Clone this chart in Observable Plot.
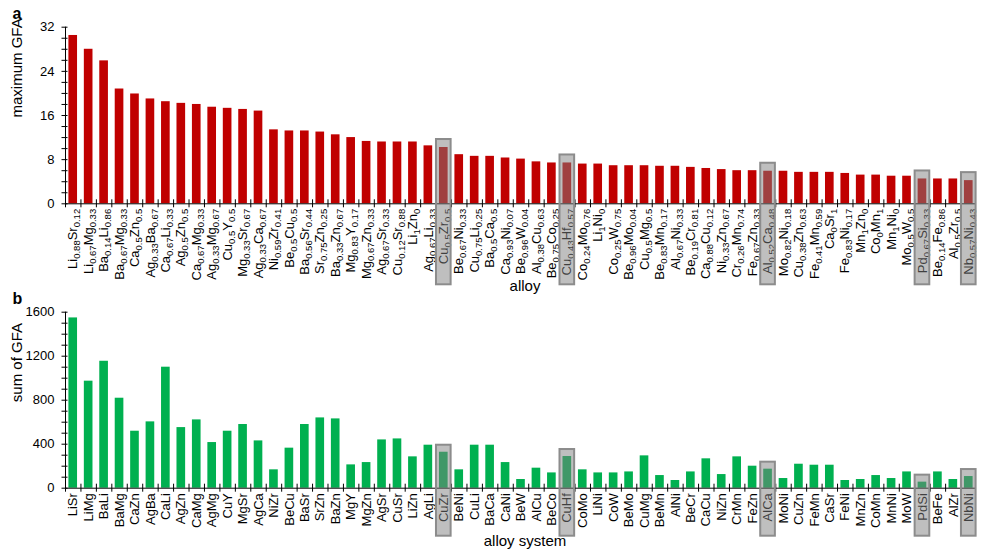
<!DOCTYPE html>
<html>
<head>
<meta charset="utf-8">
<script src="https://cdn.jsdelivr.net/npm/d3@7"></script>
<script src="https://cdn.jsdelivr.net/npm/@observablehq/plot@0.6"></script>
<style>
  html, body { margin: 0; padding: 0; background: #fff; }
  #wrap { position: relative; width: 992px; height: 555px; overflow: hidden; font-family: "Liberation Sans", Arial, sans-serif; }
  #wrap svg { position: absolute; left: 0; }
</style>
</head>
<body>
<div id="wrap"></div>
<script>
// ---- data ----
const alloys = [
  "Li0.88Sr0.12","Li0.67Mg0.33","Ba0.14Li0.86","Ba0.67Mg0.33","Ca0.5Zn0.5","Ag0.33Ba0.67",
  "Ca0.67Li0.33","Ag0.5Zn0.5","Ca0.67Mg0.33","Ag0.33Mg0.67","Cu0.5Y0.5","Mg0.33Sr0.67",
  "Ag0.33Ca0.67","Ni0.59Zr0.41","Be0.5Cu0.5","Ba0.56Sr0.44","Sr0.75Zn0.25","Ba0.33Zn0.67",
  "Mg0.83Y0.17","Mg0.67Zn0.33","Ag0.67Sr0.33","Cu0.12Sr0.88","Li1Zn0","Ag0.67Li0.33",
  "Cu0.5Zr0.5","Be0.67Ni0.33","Cu0.75Li0.25","Ba0.5Ca0.5","Ca0.93Ni0.07","Be0.96W0.04",
  "Al0.38Cu0.63","Be0.75Co0.25","Cu0.43Hf0.57","Co0.24Mo0.76","Li1Ni0","Co0.25W0.75",
  "Be0.96Mo0.04","Cu0.5Mg0.5","Be0.83Mn0.17","Al0.67Ni0.33","Be0.19Cr0.81","Ca0.88Cu0.12",
  "Ni0.33Zn0.67","Cr0.26Mn0.74","Fe0.67Zn0.33","Al0.52Ca0.48","Mo0.82Ni0.18","Cu0.38Zn0.63",
  "Fe0.41Mn0.59","Ca0Sr1","Fe0.83Ni0.17","Mn1Zn0","Co0Mn1","Mn1Ni0","Mo0.5W0.5",
  "Pd0.67Si0.33","Be0.14Fe0.86","Al0.5Zr0.5","Nb0.57Ni0.43"
];
const maxGFA = [
  30.5, 28.0, 25.9, 20.8, 19.9, 19.0, 18.5, 18.2, 18.0, 17.5, 17.3, 17.1, 16.8, 13.4, 13.2,
  13.2, 13.0, 12.5, 12.0, 11.3, 11.2, 11.2, 11.2, 10.5, 10.2, 8.9, 8.6, 8.6, 8.3, 8.1,
  7.6, 7.4, 7.4, 7.2, 7.2, 6.9, 6.9, 6.9, 6.8, 6.8, 6.6, 6.4, 6.2, 6.0, 6.0,
  5.9, 5.9, 5.7, 5.7, 5.7, 5.5, 5.2, 5.2, 5.0, 5.0, 4.5, 4.5, 4.5, 4.2
];
const systems = [
  "LiSr","LiMg","BaLi","BaMg","CaZn","AgBa","CaLi","AgZn","CaMg","AgMg","CuY","MgSr",
  "AgCa","NiZr","BeCu","BaSr","SrZn","BaZn","MgY","MgZn","AgSr","CuSr","LiZn","AgLi",
  "CuZr","BeNi","CuLi","BaCa","CaNi","BeW","AlCu","BeCo","CuHf","CoMo","LiNi","CoW",
  "BeMo","CuMg","BeMn","AlNi","BeCr","CaCu","NiZn","CrMn","FeZn","AlCa","MoNi","CuZn",
  "FeMn","CaSr","FeNi","MnZn","CoMn","MnNi","MoW","PdSi","BeFe","AlZr","NbNi"
];
const sumGFA = [
  1548, 973, 1154, 818, 518, 603, 1100, 551, 621, 415, 518, 579, 430, 167, 364,
  579, 639, 630, 212, 233, 439, 448, 285, 391, 327, 167, 391, 391, 233, 79,
  182, 139, 288, 167, 139, 139, 148, 294, 115, 70, 148, 267, 124, 285, 200,
  173, 88, 218, 209, 209, 70, 79, 115, 88, 148, 55, 148, 79, 106
];
const highlighted = ["CuZr","CuHf","AlCa","PdSi","NbNi"];
const ticksA = [0, 8, 16, 24, 32];
const ticksB = [0, 400, 800, 1200, 1600];

// ---- tables ----
const dataA = alloys.map((name, i) => ({name, value: maxGFA[i], system: name.replace(/[\d.]/g, "")}));
const dataB = systems.map((name, i) => ({name, value: sumGFA[i], system: name}));

const W = 992, ML = 65, MR = 16;
const step = (W - ML - MR) / alloys.length;
const FONT = "'Liberation Sans', Arial, sans-serif";

function panel({data, domainY, ticks, minorStep, color, height, mt, mb, letter, ytitle, xtitle, xtitleDy, boxTop, boxBottom}) {
  const hi = data.filter(d => highlighted.includes(d.system));
  return Plot.plot({
    width: W, height,
    marginLeft: ML, marginRight: MR, marginTop: mt, marginBottom: mb,
    style: {fontFamily: FONT, fontSize: "13px", background: "transparent", color: "#000"},
    x: {type: "band", domain: data.map(d => d.name), paddingInner: 0.44, paddingOuter: 0.22, round: false, label: null},
    y: {domain: domainY, label: null},
    marks: [
      Plot.barY(data, {x: "name", y: "value", fill: color}),
      Plot.ruleY([0], {stroke: "#000", strokeWidth: 1}),
      Plot.frame({anchor: "left", stroke: "#000", strokeWidth: 1}),
      Plot.axisY({ticks: d3.range(domainY[0], domainY[1] + 1e-9, minorStep), tickSize: 6, dx: 2.5, tickFormat: () => "", label: null}),
      Plot.axisY({ticks, tickSize: 0, tickPadding: 11, fontSize: 13, tickFormat: d3.format("d"), label: null}),
      Plot.axisX({tickSize: 8, dy: -4, dx: -step / 2, tickFormat: () => "", label: null}),
      Plot.axisX({tickSize: 0, tickPadding: 5, tickRotate: -90, fontSize: 13, label: null}),
      Plot.text([ytitle], {frameAnchor: "left", rotate: -90, dx: -48, dy: 2, fontSize: 15}),
      Plot.text([xtitle], {frameAnchor: "bottom", dx: 4, dy: xtitleDy, fontSize: 15}),
      Plot.text([letter], {frameAnchor: "top-left", textAnchor: "start", dx: -53, dy: -20, fontSize: 16, fontWeight: "bold"}),
      Plot.barY(hi, {x: "name", y: "value", fill: "#808080", fillOpacity: 0.5, stroke: "#8c8c8c", strokeWidth: 2,
        insetTop: -boxTop, insetBottom: -boxBottom, insetLeft: -3, insetRight: -3})
    ]
  });
}

const svgA = panel({data: dataA, domainY: [0, 32], ticks: ticksA, minorStep: 2, color: "#c00000",
  height: 300, mt: 26.7, mb: 96.7, letter: "a", ytitle: "maximum GFA", xtitle: "alloy", xtitleDy: 87,
  boxTop: 8, boxBottom: 81});
const svgB = panel({data: dataB, domainY: [0, 1600], ticks: ticksB, minorStep: 100, color: "#00b050",
  height: 275, mt: 31.7, mb: 67.3, letter: "b", ytitle: "sum of GFA", xtitle: "alloy system", xtitleDy: 58,
  boxTop: 7, boxBottom: 48});

// subscripts for the alloy composition labels
const alloySet = new Set(alloys);
svgA.querySelectorAll("text").forEach(t => {
  const s = t.textContent;
  if (!alloySet.has(s)) return;
  const parts = s.match(/[A-Z][a-z]?|[\d.]+/g);
  t.textContent = "";
  let inSub = false;
  for (const p of parts) {
    const ts = document.createElementNS("http://www.w3.org/2000/svg", "tspan");
    ts.textContent = p;
    if (/^[\d.]/.test(p)) {
      ts.setAttribute("font-size", "9.5px");
      if (!inSub) ts.setAttribute("dy", "3");
      inSub = true;
    } else {
      if (inSub) ts.setAttribute("dy", "-3");
      inSub = false;
    }
    t.appendChild(ts);
  }
});

const wrap = document.getElementById("wrap");
svgA.style.top = "0px";
svgB.style.top = "280px";
wrap.appendChild(svgA);
wrap.appendChild(svgB);
</script>
</body>
</html>
